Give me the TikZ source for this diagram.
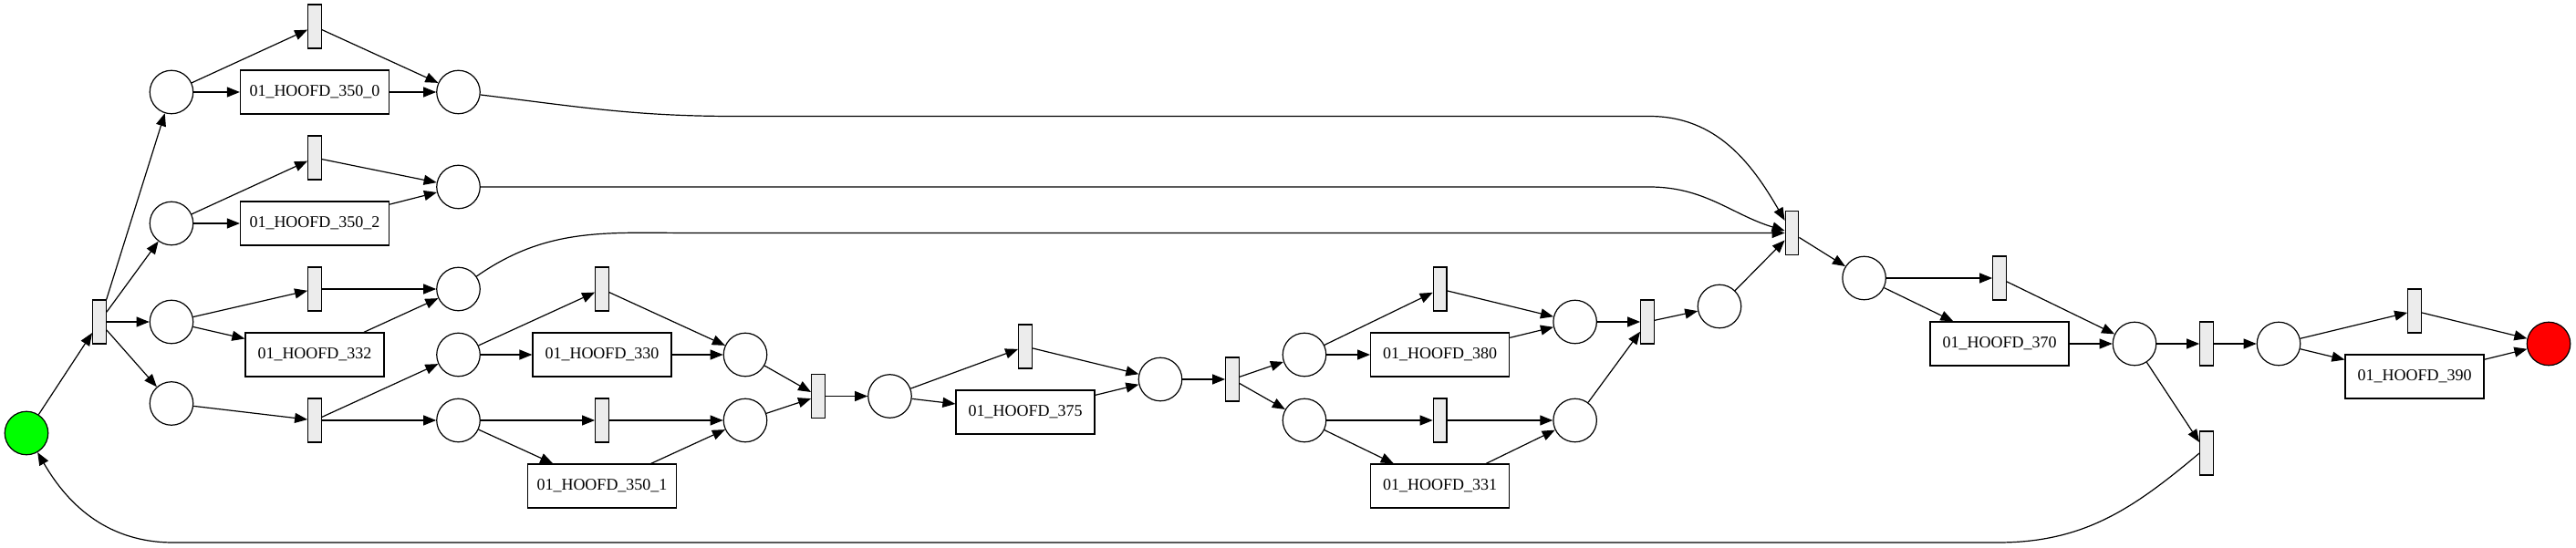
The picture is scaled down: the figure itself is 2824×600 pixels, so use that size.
\documentclass[tikz,border=0pt]{standalone}
\usepackage{fontspec}
\setmainfont{Liberation Serif}
\usetikzlibrary{arrows.meta}

\begin{document}
\begin{tikzpicture}[x=0.5pt,y=0.5pt,
  place/.style={circle,draw,line width=0.6pt,minimum size=23.75pt,inner sep=0pt},
  trans/.style={rectangle,draw,line width=0.6pt,fill=gray!15,minimum width=7.3pt,minimum height=24pt,inner sep=0pt},
  task/.style={rectangle,draw,line width=0.6pt,minimum width=76pt,minimum height=24pt,inner xsep=5pt,font=\fontsize{9}{10}\selectfont},
  arc/.style={-{Triangle[length=7pt,width=5.5pt]},line width=0.6pt}]
  \useasboundingbox (0,0) rectangle (2824,600);

  \node[place,fill=green] (source) at (29,125) {};
  \node[place,fill=red] (sink) at (2794,223) {};
  \foreach \n/\x/\y in {pA/188/499, pB/188/355, pC/188/247, pD/188/157.5,
      pE/502.5/499, pF/502.5/395, pG/502.5/283, pH/502.5/211, pI/502.5/139,
      pJ/817/211, pK/817/139, pL/975.5/165.5, pM/1272/184,
      pN/1430/211, pO/1430/139, pP/1726.6/247, pQ/1726.6/139,
      pR/1885/264, pS/2043.6/295, pT/2340/223, pU/2498/223}
    \node[place] (\n) at (\x,\y) {};
  \foreach \n/\x/\y in {tA/109/247, tB/345/571, tC/345/427, tD/345/283, tE/345/139,
      tF/660/283, tG/660/139, tH/897/165.5, tI/1124/220, tJ/1351/184,
      tK/1578.6/283, tL/1578.6/139, tM/1806/247, tN/1964.5/344.5,
      tO/2192/295, tP/2419/223, tQ/2419/103, tR/2647/259}
    \node[trans] (\n) at (\x,\y) {};
  \foreach \n/\x/\y/\t in {h3500/345/499/01\_HOOFD\_350\_0, h3502/345/355/01\_HOOFD\_350\_2,
      h332/345/211/01\_HOOFD\_332, h330/660/211/01\_HOOFD\_330,
      h3501/660/67/01\_HOOFD\_350\_1, h375/1124/148/01\_HOOFD\_375,
      h380/1578.6/211/01\_HOOFD\_380, h331/1578.6/67/01\_HOOFD\_331,
      h370/2192/223/01\_HOOFD\_370, h390/2647/187/01\_HOOFD\_390}
    \node[task] (\n) at (\x,\y) {\t};

  \foreach \a/\b in {source/tA, tA/pA, tA/pB, tA/pC, tA/pD,
      pA/tB, pA/h3500, tB/pE, h3500/pE,
      pB/tC, pB/h3502, tC/pF, h3502/pF,
      pC/tD, pC/h332, tD/pG, h332/pG,
      pD/tE, tE/pH, tE/pI,
      pH/tF, pH/h330, tF/pJ, h330/pJ,
      pI/tG, pI/h3501, tG/pK, h3501/pK,
      pJ/tH, pK/tH, tH/pL,
      pL/tI, pL/h375, tI/pM, h375/pM,
      pM/tJ, tJ/pN, tJ/pO,
      pN/tK, pN/h380, tK/pP, h380/pP,
      pO/tL, pO/h331, tL/pQ, h331/pQ,
      pP/tM, pQ/tM, tM/pR, pR/tN,
      tN/pS, pS/tO, pS/h370, tO/pT, h370/pT,
      pT/tP, pT/tQ, tP/pU,
      pU/tR, pU/h390, tR/sink, h390/sink}
    \draw[arc] (\a) -- (\b);

  % long arcs into the join and back to the start
  \coordinate (eA) at (805,472.5);
  \coordinate (eB) at (1808,472.5);
  \coordinate (fB) at (1808,395);
  \coordinate (gA) at (760,344.5);
  \coordinate (lA) at (2190,5);
  \coordinate (lB) at (190,5);
  \draw[arc] (pE) to[out=-7,in=180] (eA) -- (eB) to[out=0,in=120] (tN);
  \draw[arc] (pF) -- (fB) to[out=0,in=163] (tN);
  \draw[arc] (pG) to[out=35,in=180] (gA) -- (tN);
  \draw[arc] (tQ.west) to[out=-140,in=0] (lA) -- (lB) to[out=180,in=-60] (source);
\end{tikzpicture}
\end{document}
